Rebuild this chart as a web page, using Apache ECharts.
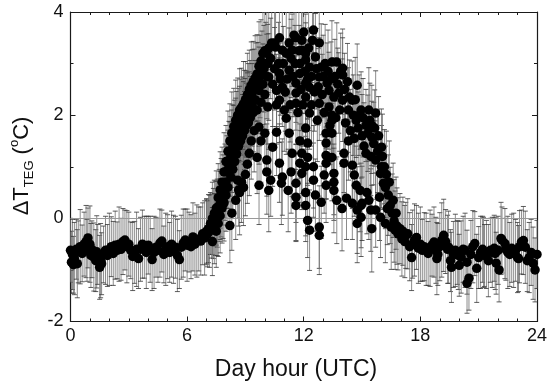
<!DOCTYPE html>
<html>
<head>
<meta charset="utf-8">
<script src="https://cdn.jsdelivr.net/npm/echarts@6/dist/echarts.min.js"></script>
<style>html,body{margin:0;padding:0;background:#fff}#c{width:550px;height:387px}</style>
</head>
<body>
<div id="c"></div>
<script>
// Each point: [hour (UTC), ΔT_TEG (°C), error]
const nightMorning = [
[0.0,-0.62,0.62],[0.05,-0.85,0.6],[0.1,-0.7,0.68],[0.15,-0.9,0.55],[0.2,-0.78,0.7],[0.3,-0.6,0.58],[0.35,-0.88,0.66],[0.4,-0.65,0.6],[0.5,-0.55,0.72],[0.6,-0.68,0.55],[0.7,-0.5,0.62],[0.8,-0.45,0.7],[0.85,-0.62,0.6],[0.9,-0.38,0.58],[1.0,-0.5,0.74],[1.05,-0.72,0.62],[1.1,-0.6,0.55],[1.2,-0.75,0.66],[1.3,-0.82,0.6],[1.35,-0.65,0.7],[1.4,-0.7,0.58],[1.5,-0.95,0.62],[1.55,-0.82,0.72],[1.6,-0.88,0.6],[1.7,-0.7,0.55],[1.8,-0.62,0.66],[1.9,-0.72,0.6],[2.0,-0.6,0.7],[2.1,-0.55,0.58],[2.2,-0.68,0.62],[2.3,-0.52,0.66],[2.4,-0.62,0.55],[2.5,-0.5,0.72],[2.6,-0.6,0.6],[2.7,-0.45,0.64],[2.8,-0.42,0.58],[2.9,-0.55,0.7],[3.0,-0.5,0.62],[3.1,-0.62,0.55],[3.2,-0.74,0.66],[3.3,-0.66,0.6],[3.4,-0.6,0.72],[3.5,-0.78,0.58],[3.6,-0.6,0.62],[3.7,-0.5,0.66],[3.8,-0.56,0.6],[3.9,-0.66,0.7],[4.0,-0.52,0.56],[4.1,-0.6,0.64],[4.2,-0.8,0.6],[4.3,-0.66,0.7],[4.4,-0.56,0.58],[4.5,-0.62,0.62],[4.6,-0.48,0.66],[4.7,-0.44,0.6],[4.8,-0.7,0.55],[4.9,-0.6,0.7],[5.0,-0.55,0.62],[5.1,-0.66,0.58],[5.2,-0.5,0.64],[5.3,-0.6,0.66],[5.4,-0.56,0.6],[5.5,-0.72,0.7],[5.6,-0.8,0.56],[5.7,-0.56,0.62],[5.8,-0.48,0.66],[5.9,-0.42,0.6],[6.0,-0.52,0.7],[6.1,-0.46,0.58],[6.2,-0.55,0.62],[6.3,-0.36,0.66],[6.4,-0.5,0.6],[6.5,-0.44,0.7],[6.6,-0.4,0.62],[6.7,-0.44,0.66],[6.8,-0.3,0.6],[6.9,-0.38,0.72],[7.0,-0.26,0.64]
];
const sunrise = [
[7.0,-0.25,0.62],[7.1,-0.2,0.66],[7.2,-0.1,0.6],[7.3,0.0,0.7],[7.4,0.1,0.64],[7.5,0.2,0.72],[7.6,0.4,0.66],[7.7,0.55,0.74],[7.8,0.7,0.68],[7.9,0.9,0.76],[8.0,1.1,0.7],[8.1,1.3,0.78],[8.2,1.5,0.72],[8.3,1.65,0.8],[8.4,1.78,0.74],[8.5,1.9,0.78],[8.6,2.0,0.72],[8.7,2.1,0.8],[8.8,2.15,0.76],[8.9,2.22,0.82],[9.0,2.3,0.74],[9.1,2.4,0.8],[9.2,2.5,0.76],[9.3,2.58,0.84],[9.4,2.65,0.78],[9.5,2.72,0.82],[9.6,2.8,0.76],[9.7,2.95,0.86],[9.8,3.05,0.8],[9.9,3.2,0.84],[10.0,3.25,0.78],[10.2,3.3,0.86],[10.35,3.4,0.8],
[7.05,-0.3,0.64],[7.15,-0.25,0.7],[7.25,-0.15,0.62],[7.35,-0.1,0.68],[7.45,0.0,0.72],[7.55,0.1,0.66],[7.65,0.25,0.7],[7.75,0.4,0.76],[7.85,0.55,0.68],[7.95,0.7,0.74],[8.05,0.9,0.7],[8.15,1.1,0.78],[8.25,1.25,0.72],[8.35,1.4,0.8],[8.45,1.55,0.74],[8.55,1.7,0.76],[8.65,1.8,0.72],[8.75,1.9,0.8],[8.85,1.98,0.76],[8.95,2.05,0.82],[9.05,2.12,0.74],[9.15,2.2,0.8],[9.25,2.3,0.76],[9.35,2.43,0.84],[9.45,2.5,0.78],[9.55,2.58,0.82],[9.65,2.65,0.76],[9.75,2.75,0.8],[9.85,2.85,0.78],[9.95,2.9,0.84],[10.05,3.0,0.8],
[7.3,-0.45,0.66],[7.5,-0.25,0.7],[7.6,-0.1,0.64],[7.7,0.05,0.72],[7.8,0.2,0.68],[7.9,0.3,0.74],[8.0,0.45,0.7],[8.1,0.6,0.76],[8.2,-0.14,0.72],[8.25,0.8,0.7],[8.35,0.95,0.78],[8.45,1.1,0.72],[8.55,1.25,0.8],[8.6,0.74,0.74],[8.65,1.4,0.76],[8.7,0.5,0.82],[8.75,1.5,0.72],[8.85,1.6,0.8],[8.95,1.7,0.76],[9.05,1.8,0.82],[9.15,1.85,0.74],[9.25,1.95,0.8],[9.4,2.05,0.76],[9.6,2.1,0.84],[9.8,2.25,0.78],[10.0,2.4,0.8],
[7.4,-0.2,0.68],[7.55,0.0,0.72],[7.7,0.25,0.66],[7.85,0.35,0.74],[8.0,0.7,0.7],[8.1,0.95,0.76],[8.2,1.15,0.72],[8.3,1.3,0.8],[8.4,1.45,0.74],[8.5,1.55,0.78],[8.7,1.84,0.72],[8.9,1.85,0.8],[9.0,1.95,0.76],[9.1,2.0,0.82],[9.2,2.1,0.74],[9.35,2.2,0.8],[9.5,2.3,0.76],[9.7,2.48,0.84],[9.9,2.6,0.78],[10.1,2.75,0.82],
[8.3,0.1,0.72],[8.5,0.35,0.76],[8.65,0.55,0.7],[8.8,0.7,0.78],[8.9,0.6,0.74],[9.0,0.85,0.8],[9.1,1.05,0.76],[9.2,1.26,0.82],[9.3,1.5,0.74],[9.45,1.7,0.8]
];
const daytime = [
[9.6,1.18,0.7],[9.7,0.64,0.76],[9.7,1.77,0.72],[9.8,1.5,0.8],[10.0,1.65,0.74],[10.1,0.9,0.82],[10.1,1.13,0.7],[10.1,3.2,0.8],[10.15,3.0,0.76],[10.15,2.16,0.72],[10.2,0.54,0.8],[10.2,2.74,0.84],[10.3,0.74,0.7],[10.3,3.1,0.78],[10.4,1.38,0.76],[10.4,2.6,0.82],[10.5,3.4,0.74],[10.5,2.9,0.8],[10.55,3.32,0.72],[10.6,1.67,0.84],[10.6,2.2,0.76],[10.6,2.48,0.7],[10.7,3.0,0.8],[10.75,3.5,0.78],[10.75,2.81,0.74],[10.75,2.29,0.82],[10.75,1.07,0.76],[10.8,2.7,0.7],[10.85,0.68,0.8],[10.9,0.8,0.74],[10.9,3.26,0.82],[10.9,2.54,0.76],[10.95,3.0,0.72],[11.0,2.1,0.8],[11.05,2.45,0.76],[11.1,3.2,0.84],[11.1,1.94,0.7],[11.15,2.7,0.78],[11.2,0.54,0.8],[11.25,3.4,0.74],[11.25,2.87,0.82],[11.25,1.65,0.76],[11.3,2.2,0.72],[11.35,0.9,0.8],[11.35,3.1,0.76],[11.4,1.26,0.84],[11.4,3.26,0.7],[11.45,2.75,0.78],[11.5,3.55,0.8],[11.55,3.0,0.74],[11.6,3.5,0.82],[11.6,2.62,0.76],[11.6,2.43,0.72],[11.6,2.23,0.8],[11.6,0.68,0.76],[11.6,0.41,0.84],[11.6,0.25,0.7],[11.7,2.05,0.78],[11.75,3.25,0.8],[11.8,3.0,0.74],[11.8,2.81,0.82],[11.8,1.07,0.76],[11.8,1.5,0.72],[11.85,2.5,0.8],[11.9,3.45,0.76],[11.9,3.26,0.84],[11.9,0.87,0.7],[11.9,1.26,0.78],[11.95,2.2,0.8],[12.0,3.61,0.74],[12.05,2.85,0.82],[12.1,3.2,0.76],[12.1,3.07,0.72],[12.1,2.62,0.8],[12.1,2.35,0.76],[12.1,0.5,0.84],[12.1,0.25,0.7],[12.1,1.0,0.78],[12.1,1.75,0.8],[12.2,1.18,0.74],[12.2,1.46,0.82],[12.2,2.7,0.76],[12.2,-0.04,0.72],[12.25,3.3,0.8],[12.3,2.93,0.76],[12.3,2.54,0.84],[12.3,2.04,0.7],[12.3,-0.23,0.78],[12.4,2.2,0.8],[12.4,2.75,0.74],[12.45,3.45,0.82],[12.5,3.65,0.76],[12.5,0.74,0.72],[12.5,1.0,0.8],[12.55,2.45,0.76],[12.6,3.13,0.84],[12.6,0.45,0.7],[12.65,2.9,0.78],[12.7,1.9,0.8],[12.75,2.55,0.74],[12.8,3.4,0.82],[12.8,2.74,0.76],[12.8,2.23,0.72],[12.8,-0.17,0.8],[12.8,-0.33,0.76],[12.9,2.93,0.84],[12.9,0.31,0.7],[12.95,2.4,0.78],[13.0,2.75,0.8],[13.05,0.84,0.74],[13.05,2.05,0.82],[13.1,3.0,0.76],[13.15,0.64,0.72],[13.15,1.65,0.8],[13.15,1.46,0.76],[13.15,1.22,0.84],[13.15,1.07,0.7],[13.2,2.62,0.78],[13.25,2.85,0.8],[13.3,2.48,0.74],[13.3,2.16,0.82],[13.35,1.8,0.76],[13.4,2.7,0.72],[13.45,3.03,0.8],[13.45,2.0,0.76],[13.45,1.18,0.84],[13.45,1.9,0.7],[13.45,1.65,0.78],[13.55,0.87,0.8],[13.55,0.7,0.74],[13.55,0.54,0.82],[13.55,2.35,0.76],[13.6,2.75,0.72],[13.65,1.95,0.8],[13.7,3.03,0.76],[13.7,0.35,0.84],[13.75,2.6,0.7],[13.8,2.43,0.78],[13.85,2.1,0.8],[13.9,2.85,0.74],[13.97,0.19,0.82],[14.0,2.91,0.76],[14.0,2.78,0.72],[14.0,2.29,0.8],[14.07,1.26,0.76],[14.07,1.07,0.84],[14.1,2.5,0.7],[14.15,1.85,0.78],[14.2,0.39,0.8],[14.25,2.65,0.74],[14.3,2.1,0.82],[14.3,1.5,0.76],[14.35,2.35,0.72],[14.4,1.7,0.8],[14.5,2.29,0.76],[14.5,1.03,0.84],[14.5,0.29,0.7],[14.55,2.0,0.78],[14.6,0.84,0.8],[14.6,1.55,0.74],[14.65,2.3,0.82],[14.7,0.64,0.76],[14.7,1.9,0.72],[14.75,2.58,0.8],[14.75,-0.1,0.76],[14.75,0.16,0.84],[14.8,1.75,0.7],[14.85,2.0,0.78],[14.9,0.54,0.8],[14.95,2.1,0.74],[14.95,0.25,0.82],[14.95,0.02,0.76],[15.0,0.29,0.72],[15.0,1.6,0.8],[15.05,1.95,0.76],[15.1,1.4,0.84],[15.2,1.8,0.7],[15.2,1.26,0.78],[15.25,0.5,0.8],[15.3,1.65,0.74],[15.35,2.1,0.82],[15.35,0.35,0.76],[15.4,1.9,0.72],[15.45,0.16,0.8],[15.45,1.2,0.76],[15.5,-0.2,0.84],[15.5,1.57,0.7],[15.5,1.8,0.78],[15.6,1.45,0.8],[15.65,1.75,0.74],[15.7,2.04,0.82],[15.7,1.13,0.76],[15.7,0.16,0.72],[15.8,1.3,0.8],[15.85,1.6,0.76],[15.9,0.41,0.84],[15.95,0.87,0.7],[15.95,0.02,0.78],[16.0,1.0,0.8],[16.0,1.38,0.74],[16.05,1.2,0.82],[16.1,0.68,0.76],[16.15,1.0,0.72],[16.2,0.6,0.8],[16.2,-0.1,0.76],[16.25,0.85,0.84],[16.3,0.19,0.7],[16.35,0.45,0.78],[16.4,0.7,0.8],[16.45,0.25,0.74],[16.5,-0.17,0.82],[16.55,0.1,0.76],[16.6,0.35,0.72],[16.65,-0.05,0.8],[16.7,-0.23,0.76],[16.75,0.1,0.7],[16.8,-0.15,0.74],[16.85,-0.3,0.7],[16.95,-0.2,0.68],[17.05,-0.4,0.72],[17.1,-0.25,0.66],[17.2,-0.45,0.7],[17.25,-0.33,0.64],[17.35,-0.3,0.68],[17.45,-0.55,0.66],[17.55,-0.76,0.64]
];
const nightEvening = [
[17.6,-0.5,0.66],[17.7,-0.42,0.7],[17.8,-0.37,0.62],[17.9,-0.58,0.68],[18.0,-0.5,0.72],[18.1,-0.62,0.6],[18.2,-0.55,0.66],[18.3,-0.6,0.7],[18.4,-0.68,0.62],[18.5,-0.58,0.74],[18.6,-0.52,0.6],[18.7,-0.46,0.68],[18.8,-0.62,0.64],[18.85,-0.78,0.7],[18.9,-0.7,0.6],[19.0,-0.55,0.66],[19.1,-0.42,0.72],[19.2,-0.33,0.7],[19.3,-0.45,0.62],[19.4,-0.6,0.66],[19.45,-0.56,0.7],[19.55,-0.82,0.6],[19.6,-0.95,0.68],[19.7,-0.7,0.64],[19.8,-0.62,0.7],[19.9,-0.66,0.62],[19.95,-0.72,0.66],[20.0,-0.91,0.6],[20.1,-0.75,0.7],[20.2,-0.6,0.64],[20.3,-0.62,0.72],[20.4,-0.85,0.62],[20.4,-1.26,0.58],[20.5,-1.16,0.62],[20.6,-0.7,0.66],[20.7,-0.55,0.7],[20.8,-0.49,0.62],[20.9,-0.97,0.66],[21.0,-0.76,0.6],[21.1,-0.66,0.7],[21.2,-0.6,0.64],[21.25,-0.66,0.68],[21.3,-0.72,0.6],[21.4,-0.7,0.66],[21.5,-0.82,0.7],[21.6,-0.62,0.62],[21.7,-0.66,0.68],[21.8,-0.58,0.64],[21.85,-0.68,0.7],[21.9,-0.87,0.6],[22.0,-0.62,0.66],[22.05,-1.0,0.62],[22.15,-0.39,0.7],[22.2,-0.42,0.64],[22.35,-0.49,0.68],[22.4,-0.6,0.6],[22.5,-0.66,0.7],[22.6,-0.7,0.62],[22.7,-0.58,0.66],[22.8,-0.62,0.72],[22.9,-0.62,0.6],[23.0,-0.76,0.68],[23.05,-0.78,0.64],[23.1,-0.55,0.7],[23.2,-0.46,0.62],[23.3,-0.43,0.66],[23.4,-0.56,0.7],[23.5,-0.82,0.6],[23.6,-0.76,0.68],[23.7,-0.66,0.64],[23.8,-0.87,0.7],[23.9,-1.0,0.62],[24.0,-0.7,0.66]
];
const xTicks = [0, 6, 12, 18, 24];
const yTicks = [-2, 0, 2, 4];

const allPoints = nightMorning.concat(sunrise, daytime, nightEvening);
const FONT = "'Liberation Sans', Arial, sans-serif";

const chart = echarts.init(document.getElementById('c'), null, {renderer: 'canvas'});

function renderErr(params, api) {
  const x = api.value(0), y = api.value(1), e = api.value(2);
  const top = api.coord([x, y + e]);
  const bot = api.coord([x, y - e]);
  const w = 2.5;
  return {
    type: 'group',
    children: [
      {type: 'line', shape: {x1: top[0], y1: top[1], x2: bot[0], y2: bot[1]}, style: {stroke: '#6e6e6e', lineWidth: 0.8}},
      {type: 'line', shape: {x1: top[0] - w, y1: top[1], x2: top[0] + w, y2: top[1]}, style: {stroke: '#333', lineWidth: 0.8}},
      {type: 'line', shape: {x1: bot[0] - w, y1: bot[1], x2: bot[0] + w, y2: bot[1]}, style: {stroke: '#333', lineWidth: 0.8}}
    ]
  };
}

const axisLine = {show: true, onZero: false, lineStyle: {color: '#1a1a1a', width: 1.2}};
const tickStyle = {color: '#1a1a1a', width: 1};

const option = {
  animation: false,
  backgroundColor: '#fff',
  grid: {left: 70.5, right: 10.5, top: 12, bottom: 65.5, containLabel: false},
  xAxis: [
    {type: 'value', min: xTicks[0], max: xTicks[xTicks.length - 1], interval: 6, position: 'bottom',
     axisLine: axisLine, axisTick: {show: true, inside: true, length: 5, lineStyle: tickStyle},
     minorTick: {show: true, splitNumber: 6, length: 3, lineStyle: tickStyle},
     axisLabel: {fontSize: 18, color: '#111', fontFamily: FONT, margin: 6},
     splitLine: {show: false}},
    {type: 'value', min: xTicks[0], max: xTicks[xTicks.length - 1], interval: 6, position: 'top',
     axisLine: axisLine, axisTick: {show: true, inside: true, length: 5, lineStyle: tickStyle},
     minorTick: {show: true, splitNumber: 6, length: 3, lineStyle: tickStyle},
     axisLabel: {show: false}, splitLine: {show: false}}
  ],
  yAxis: [
    {type: 'value', min: yTicks[0], max: yTicks[yTicks.length - 1], interval: 2, position: 'left',
     axisLine: axisLine, axisTick: {show: true, inside: true, length: 5, lineStyle: tickStyle},
     minorTick: {show: true, splitNumber: 2, length: 3, lineStyle: tickStyle},
     axisLabel: {fontSize: 18, color: '#111', fontFamily: FONT, margin: 7},
     splitLine: {show: false}},
    {type: 'value', min: yTicks[0], max: yTicks[yTicks.length - 1], interval: 2, position: 'right',
     axisLine: axisLine, axisTick: {show: true, inside: true, length: 5, lineStyle: tickStyle},
     minorTick: {show: true, splitNumber: 2, length: 3, lineStyle: tickStyle},
     axisLabel: {show: false}, splitLine: {show: false}}
  ],
  series: [
    {type: 'custom', name: 'error', xAxisIndex: 0, yAxisIndex: 0, renderItem: renderErr,
     data: allPoints, encode: {x: 0, y: 1}, clip: true, z: 1, silent: true},
    {type: 'scatter', name: 'dT', xAxisIndex: 0, yAxisIndex: 0, data: allPoints,
     symbol: 'circle', symbolSize: 9.5, itemStyle: {color: '#000', opacity: 1}, z: 3, silent: true,
     markLine: {silent: true, symbol: 'none', label: {show: false},
       lineStyle: {color: '#999', width: 1, type: 'solid'}, data: [{yAxis: 0}], z: 2}}
  ],
  graphic: [
    {type: 'text', x: 296, y: 370, style: {text: 'Day hour (UTC)', font: "23px 'Liberation Sans', Arial, sans-serif", fill: '#111', align: 'center', verticalAlign: 'middle', textAlign: 'center', textVerticalAlign: 'middle'}},
    {type: 'text', x: 22, y: 166, rotation: Math.PI / 2,
     style: {text: '{m|ΔT}{s|TEG}{m| (}{p|o}{m|C)}', align: 'center', verticalAlign: 'middle', textAlign: 'center', textVerticalAlign: 'middle',
       fill: '#111',
       rich: {
         m: {fontSize: 22, fontFamily: FONT, fill: '#111', color: '#111', lineHeight: 28, verticalAlign: 'middle'},
         s: {fontSize: 13, fontFamily: FONT, fill: '#111', color: '#111', lineHeight: 28, verticalAlign: 'bottom'},
         p: {fontSize: 13, fontFamily: FONT, fill: '#111', color: '#111', lineHeight: 28, verticalAlign: 'top'}
       }}}
  ]
};
chart.setOption(option);
</script>
</body>
</html>
